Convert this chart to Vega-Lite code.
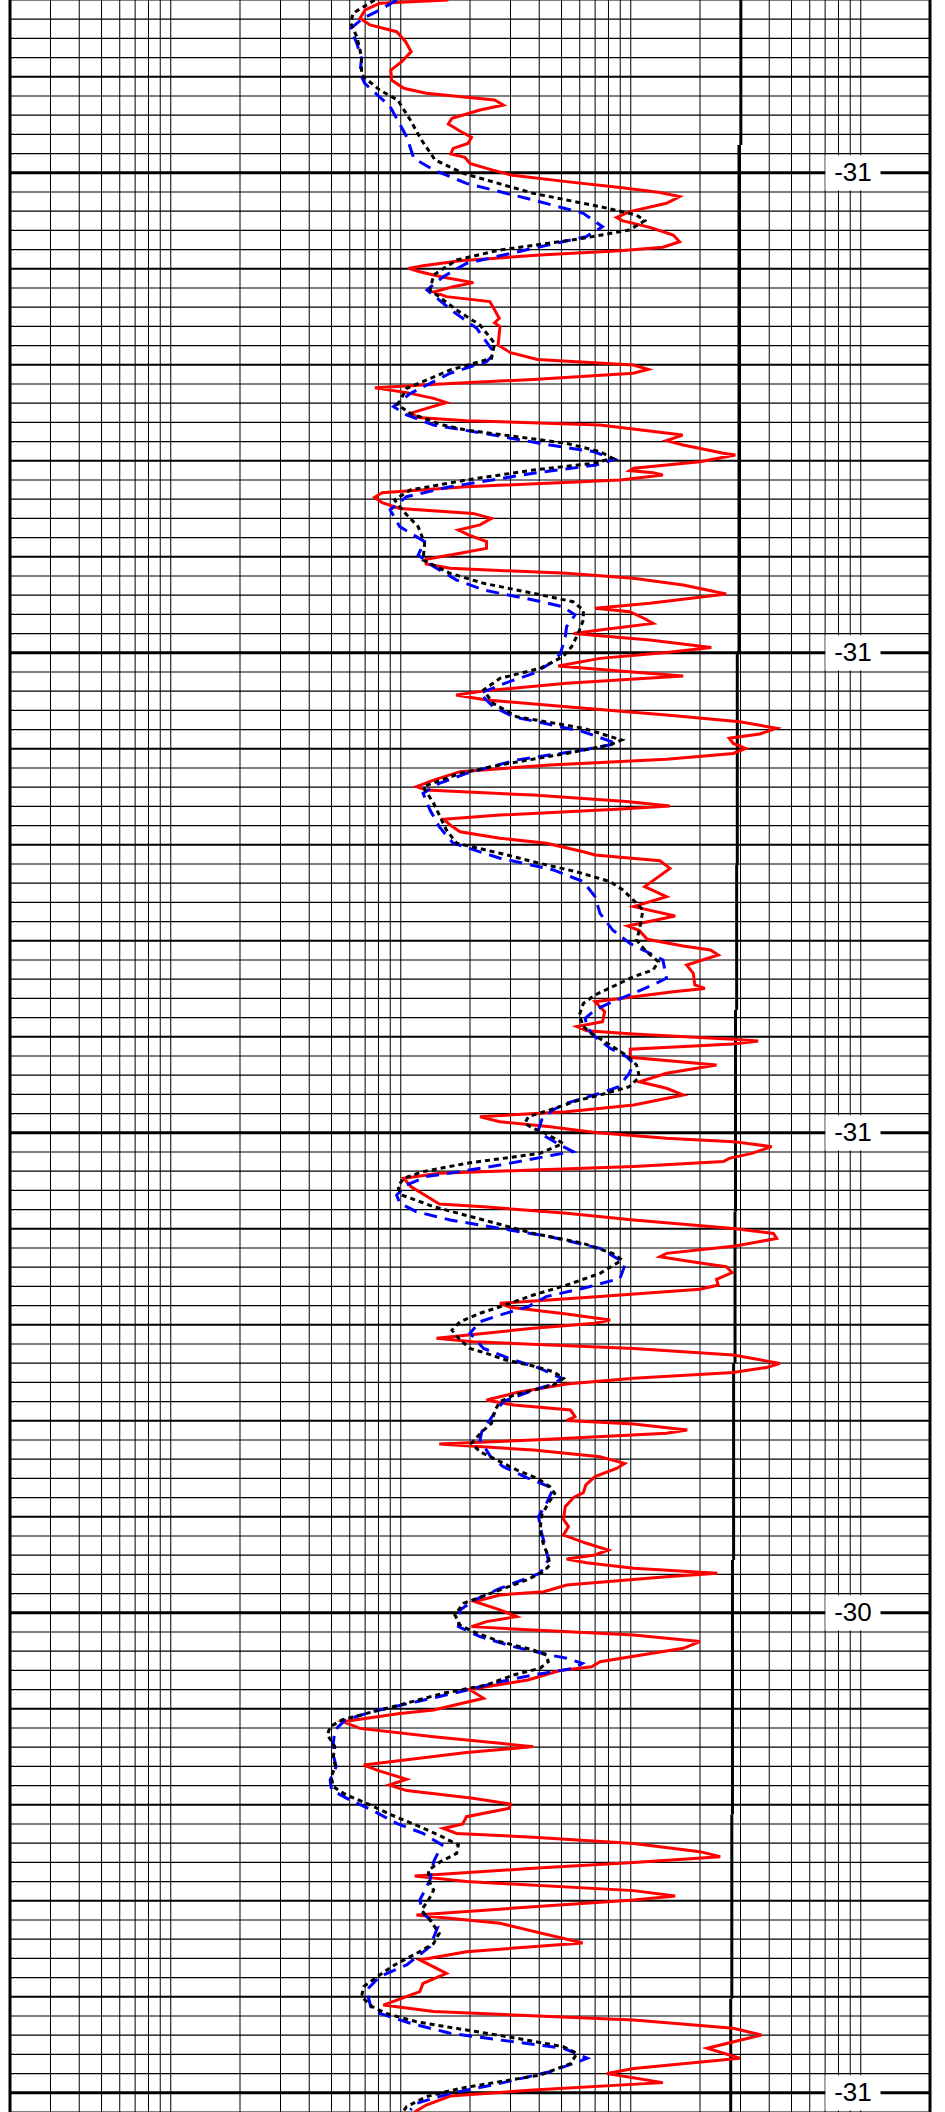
{
"$schema": "https://vega.github.io/schema/vega-lite/v6.json",
"width": 920, "height": 2112,
"autosize": {"type": "none"},
"padding": {"left": 10, "top": 0, "right": 15, "bottom": 0},
"background": "white",
"config": {"view": {"stroke": null}},
"datasets": {
"vthin": [{"v":0.3},{"v":0.4},{"v":0.5},{"v":0.6},{"v":0.7},{"v":0.8},{"v":0.9},{"v":1},{"v":2},{"v":3},{"v":4},{"v":5},{"v":6},{"v":7},{"v":8},{"v":9},{"v":10},{"v":20},{"v":30},{"v":40},{"v":50},{"v":60},{"v":70},{"v":80},{"v":90},{"v":100},{"v":200},{"v":300},{"v":400},{"v":500},{"v":600},{"v":700},{"v":800},{"v":900},{"v":1000}],
"vborder": [{"v":0.2},{"v":2000}],
"hthin": [{"d":0},{"d":1},{"d":2},{"d":3},{"d":5},{"d":6},{"d":7},{"d":8},{"d":10},{"d":11},{"d":12},{"d":13},{"d":15},{"d":16},{"d":17},{"d":18},{"d":20},{"d":21},{"d":22},{"d":23},{"d":25},{"d":26},{"d":27},{"d":28},{"d":30},{"d":31},{"d":32},{"d":33},{"d":35},{"d":36},{"d":37},{"d":38},{"d":40},{"d":41},{"d":42},{"d":43},{"d":45},{"d":46},{"d":47},{"d":48},{"d":50},{"d":51},{"d":52},{"d":53},{"d":55},{"d":56},{"d":57},{"d":58},{"d":60},{"d":61},{"d":62},{"d":63},{"d":65},{"d":66},{"d":67},{"d":68},{"d":70},{"d":71},{"d":72},{"d":73},{"d":75},{"d":76},{"d":77},{"d":78},{"d":80},{"d":81},{"d":82},{"d":83},{"d":85},{"d":86},{"d":87},{"d":88},{"d":90},{"d":91},{"d":92},{"d":93},{"d":95},{"d":96},{"d":97},{"d":98},{"d":100},{"d":101},{"d":102},{"d":103},{"d":105},{"d":106},{"d":107},{"d":108},{"d":110}],
"hmid": [{"d":4},{"d":14},{"d":19},{"d":24},{"d":29},{"d":39},{"d":44},{"d":49},{"d":54},{"d":64},{"d":69},{"d":74},{"d":79},{"d":89},{"d":94},{"d":99},{"d":104}],
"hmajor": [{"d":9,"t":"-31"},{"d":34,"t":"-31"},{"d":59,"t":"-31"},{"d":84,"t":"-30"},{"d":109,"t":"-31"}],
"cutoff": [{"v":301,"d0":0,"d1":7.55},{"v":295.5,"d0":7.55,"d1":34},{"v":290.5,"d0":34,"d1":45.05},{"v":288.7,"d0":45.05,"d1":52.6},{"v":285.4,"d0":52.6,"d1":63.1},{"v":284,"d0":63.1,"d1":71},{"v":280,"d0":71,"d1":81.25},{"v":276.8,"d0":81.25,"d1":94.5},{"v":275,"d0":94.5,"d1":104.1},{"v":272,"d0":104.1,"d1":110}],
"red": [
{"d":0,"v":16.1},{"d":0.17,"v":8.1},{"d":0.52,"v":7.0},{"d":0.95,"v":6.65},{"d":1.3,"v":7.35},{"d":1.65,"v":9.6},{"d":2.17,"v":10.5},{"d":2.69,"v":11.1},{"d":3.21,"v":10.1},{"d":3.65,"v":9.05},{"d":4.17,"v":9.13},{"d":4.6,"v":10.3},{"d":4.86,"v":12.9},{"d":5.07,"v":19.3},{"d":5.21,"v":25.6},{"d":5.47,"v":27.9},{"d":5.73,"v":22.1},{"d":6.16,"v":16.7},{"d":6.46,"v":16.1},{"d":6.86,"v":18.3},{"d":7.15,"v":20.3},{"d":7.47,"v":19.6},{"d":7.73,"v":16.9},{"d":8.02,"v":16.5},{"d":8.19,"v":19.0},{"d":8.51,"v":20.0},{"d":8.77,"v":23.6},{"d":9.11,"v":30.0},{"d":9.46,"v":52.6},{"d":9.77,"v":89.8},{"d":10.03,"v":134},{"d":10.24,"v":163},{"d":10.59,"v":143},{"d":11.02,"v":99},{"d":11.32,"v":86.8},{"d":11.49,"v":91.7},{"d":11.84,"v":121},{"d":12.24,"v":153},{"d":12.59,"v":163},{"d":12.88,"v":138},{"d":13.06,"v":90},{"d":13.28,"v":40.3},{"d":13.58,"v":18.1},{"d":13.84,"v":12.5},{"d":13.98,"v":10.8},{"d":14.15,"v":12.1},{"d":14.44,"v":15.3},{"d":14.72,"v":20.7},{"d":14.93,"v":16.9},{"d":15.21,"v":13.9},{"d":15.45,"v":15.8},{"d":15.71,"v":24.4},{"d":16.15,"v":25.6},{"d":16.58,"v":26.8},{"d":16.81,"v":25.6},{"d":17.01,"v":27},{"d":17.97,"v":26.5},{"d":18.37,"v":30.0},{"d":18.72,"v":39.3},{"d":19.01,"v":102.6},{"d":19.24,"v":119},{"d":19.44,"v":102.6},{"d":19.76,"v":37.7},{"d":20.0,"v":14.9},{"d":20.19,"v":7.72},{"d":20.45,"v":10.6},{"d":20.75,"v":13.9},{"d":20.97,"v":15.8},{"d":21.22,"v":13.4},{"d":21.53,"v":11.0},{"d":21.74,"v":11.9},{"d":21.91,"v":19.3},{"d":22.14,"v":73.5},
{"d":22.66,"v":168},{"d":22.95,"v":143},{"d":23.18,"v":169},{"d":23.61,"v":253},{"d":23.7,"v":285},{"d":24.05,"v":200},{"d":24.39,"v":103},{"d":24.51,"v":99},{"d":24.62,"v":125},{"d":24.74,"v":138},{"d":25.0,"v":90},{"d":25.35,"v":19.3},{"d":25.66,"v":8.3},{"d":25.9,"v":7.7},{"d":26.18,"v":8.3},{"d":26.48,"v":9.9},{"d":26.74,"v":20.6},{"d":27.0,"v":24.8},{"d":27.34,"v":22.1},{"d":27.6,"v":17.8},{"d":27.86,"v":19.7},{"d":28.21,"v":23.6},{"d":28.56,"v":23.6},{"d":28.82,"v":18.1},{"d":29.13,"v":12.9},{"d":29.38,"v":12.9},{"d":29.6,"v":16.4},{"d":29.86,"v":52.6},{"d":30.12,"v":102.6},{"d":30.47,"v":169},{"d":30.94,"v":260},{"d":31.42,"v":121},{"d":31.68,"v":70},{"d":31.86,"v":99},{"d":32.2,"v":114},{"d":32.47,"v":125},{"d":32.81,"v":73.5},{"d":32.99,"v":56.5},{"d":33.33,"v":121},{"d":33.72,"v":224},{"d":33.99,"v":143},{"d":34.29,"v":73.5},{"d":34.69,"v":48.4},{"d":34.93,"v":86.8},{"d":35.21,"v":169},{"d":35.59,"v":52.6},{"d":35.97,"v":23.6},{"d":36.2,"v":17.4},{"d":36.46,"v":23.6},{"d":36.81,"v":52.6},{"d":37.24,"v":143},{"d":37.59,"v":298},{"d":37.93,"v":430},{"d":38.23,"v":364},{"d":38.45,"v":268},{"d":38.72,"v":279},{"d":38.98,"v":316},{"d":39.24,"v":279},{"d":39.55,"v":143},{"d":39.84,"v":44.5},{"d":40.19,"v":18.1},{"d":40.63,"v":13.9},{"d":40.97,"v":11.7},{"d":41.15,"v":12.9},{"d":41.41,"v":37.7},{"d":41.75,"v":95.8},{"d":41.98,"v":148},{"d":42.15,"v":86.8},{"d":42.45,"v":27.0},{"d":42.67,"v":15.4},{"d":42.97,"v":16.4},{"d":43.32,"v":18.1},{"d":43.66,"v":27},
{"d":43.92,"v":43.0},{"d":44.36,"v":62.2},{"d":44.53,"v":69.9},{"d":44.83,"v":134},{"d":45.23,"v":148},{"d":45.75,"v":129},{"d":46.18,"v":115},{"d":46.7,"v":143},{"d":47.22,"v":103},{"d":47.71,"v":156},{"d":48.23,"v":97},{"d":48.47,"v":109},{"d":48.92,"v":118},{"d":49.27,"v":169},{"d":49.48,"v":222},{"d":49.74,"v":240},{"d":50.26,"v":175},{"d":50.69,"v":187},{"d":51.3,"v":190},{"d":51.48,"v":210},{"d":51.65,"v":153},{"d":52.17,"v":69.9},{"d":52.69,"v":77},{"d":53.21,"v":75.4},{"d":53.47,"v":58.3},{"d":53.68,"v":64.3},{"d":53.85,"v":102.6},{"d":54.13,"v":279},{"d":54.22,"v":358},{"d":54.38,"v":279},{"d":54.65,"v":99.5},{"d":55.07,"v":99.5},{"d":55.47,"v":236},{"d":55.9,"v":143},{"d":56.34,"v":109},{"d":56.68,"v":143},{"d":57.03,"v":169},{"d":57.55,"v":103},{"d":57.9,"v":52.6},{"d":58.16,"v":22.1},{"d":58.42,"v":27},{"d":58.68,"v":44.5},{"d":58.99,"v":69.9},{"d":59.29,"v":143},{"d":59.46,"v":279},{"d":59.72,"v":410},{"d":60.07,"v":336},{"d":60.33,"v":268},{"d":60.5,"v":253},{"d":60.76,"v":103},{"d":60.94,"v":37.7},{"d":61.11,"v":14.7},{"d":61.37,"v":10.3},{"d":61.81,"v":11.1},{"d":62.41,"v":13.4},{"d":62.71,"v":14.7},{"d":62.85,"v":22.9},{"d":63.19,"v":52.6},{"d":63.54,"v":103},{"d":63.98,"v":279},{"d":64.24,"v":417},{"d":64.5,"v":431},{"d":64.9,"v":285},{"d":65.28,"v":143},{"d":65.45,"v":134},{"d":65.66,"v":173},{"d":65.88,"v":230},
{"d":65.97,"v":260},{"d":66.28,"v":276},{"d":66.63,"v":236},{"d":66.93,"v":240},{"d":67.15,"v":200},{"d":67.53,"v":73.5},{"d":67.88,"v":27},{"d":68.09,"v":29.9},{"d":68.44,"v":52.6},{"d":68.75,"v":81.4},{"d":68.92,"v":69.9},{"d":69.18,"v":37.7},{"d":69.7,"v":14.3},{"d":69.88,"v":20.6},{"d":70.23,"v":103},{"d":70.57,"v":279},{"d":71.01,"v":445},{"d":71.22,"v":390},{"d":71.48,"v":279},{"d":71.79,"v":103},{"d":72.08,"v":52.6},{"d":72.53,"v":31.9},{"d":72.92,"v":23.6},{"d":73.18,"v":31},{"d":73.44,"v":54.7},{"d":73.78,"v":57.2},{"d":73.99,"v":52.6},{"d":74.17,"v":103},{"d":74.48,"v":176},{"d":74.65,"v":143},{"d":75.0,"v":37.7},{"d":75.21,"v":14.7},{"d":75.52,"v":37.7},{"d":75.87,"v":73.5},{"d":76.22,"v":94},{"d":76.48,"v":86.8},{"d":76.91,"v":69.9},{"d":77.34,"v":63.8},{"d":77.74,"v":62.2},{"d":77.99,"v":56.5},{"d":78.47,"v":51.9},{"d":79.13,"v":51},{"d":79.51,"v":53.6},{"d":79.95,"v":51},{"d":80.38,"v":64.2},{"d":80.73,"v":79.8},{"d":80.99,"v":69.9},{"d":81.2,"v":52.6},{"d":81.39,"v":64.2},{"d":81.68,"v":103},{"d":81.94,"v":238},{"d":82.12,"v":143},{"d":82.55,"v":52.6},{"d":82.9,"v":41.9},{"d":83.07,"v":27},{"d":83.42,"v":21},{"d":83.85,"v":27},{"d":84.2,"v":31.9},{"d":84.46,"v":23.6},{"d":84.72,"v":20.3},{"d":84.9,"v":37.7},{"d":85.16,"v":103},{"d":85.5,"v":200},{"d":85.85,"v":169},{"d":86.55,"v":73.5},{"d":86.81,"v":67.6},{"d":87.01,"v":49.2},
{"d":87.5,"v":35.7},{"d":87.99,"v":19.9},{"d":88.45,"v":22.9},{"d":89.06,"v":13.9},{"d":89.24,"v":9.9},{"d":89.67,"v":5.6},{"d":90.02,"v":6.65},{"d":90.45,"v":13.9},{"d":90.8,"v":27},{"d":90.97,"v":37.7},{"d":91.28,"v":19.3},{"d":91.93,"v":6.9},{"d":92.22,"v":8.0},{"d":92.67,"v":10.6},{"d":92.97,"v":8.9},{"d":93.26,"v":10.6},{"d":93.66,"v":20.6},{"d":93.96,"v":29.9},{"d":94.18,"v":29.7},{"d":94.62,"v":19.3},{"d":95.0,"v":18.6},{"d":95.23,"v":15.3},{"d":95.49,"v":17.5},{"d":95.69,"v":37.7},{"d":96.01,"v":103},{"d":96.44,"v":200},{"d":96.7,"v":245},{"d":97.01,"v":103},{"d":97.31,"v":37.7},{"d":97.71,"v":11.5},{"d":98.0,"v":19.3},{"d":98.47,"v":103},{"d":98.75,"v":156},{"d":98.96,"v":103},{"d":99.31,"v":37.7},{"d":99.74,"v":11.7},{"d":100.17,"v":27},{"d":101.2,"v":61.8},{"d":101.65,"v":19.3},{"d":102.08,"v":12.1},{"d":102.78,"v":15.8},{"d":103.3,"v":12.5},{"d":103.73,"v":12.1},{"d":104.43,"v":8.4},{"d":104.77,"v":13.9},{"d":105.21,"v":103},{"d":105.64,"v":279},{"d":105.99,"v":370},{"d":106.68,"v":215},{"d":107.2,"v":298},{"d":107.73,"v":103},{"d":107.99,"v":78.8},{"d":108.47,"v":138},{"d":108.85,"v":37.7},{"d":109.17,"v":16.4},{"d":109.64,"v":12.9},{"d":110.0,"v":11.5}
],
"black": [
{"d":0,"v":7.7},{"d":0.69,"v":6.2},{"d":1.22,"v":6.06},{"d":1.91,"v":6.44},{"d":2.95,"v":6.75},{"d":3.91,"v":6.75},{"d":4.69,"v":8.1},{"d":5.21,"v":9.7},{"d":6.25,"v":11.0},{"d":7.29,"v":12.3},{"d":8.33,"v":14.1},{"d":9.03,"v":18.7},{"d":10.07,"v":37.7},{"d":10.76,"v":73.5},{"d":11.2,"v":106},{"d":11.49,"v":115},{"d":11.98,"v":98.6},{"d":12.41,"v":62.2},{"d":13.02,"v":27},{"d":13.54,"v":17.5},{"d":14.32,"v":13.9},{"d":15.1,"v":13.4},{"d":16.15,"v":17.5},{"d":16.93,"v":22.1},{"d":17.88,"v":25.6},{"d":18.66,"v":24.8},{"d":19.27,"v":16.4},{"d":20.23,"v":10.6},{"d":21.09,"v":9.7},{"d":21.53,"v":11.0},{"d":22.14,"v":15.3},
{"d":22.4,"v":19.3},{"d":23.09,"v":52.6},{"d":23.52,"v":73.5},{"d":23.87,"v":83.4},{"d":24.13,"v":68.6},{"d":24.48,"v":37.7},{"d":25.0,"v":19.3},{"d":25.52,"v":11.0},{"d":26.04,"v":9.4},{"d":26.65,"v":10.3},{"d":27.43,"v":11.9},{"d":28.3,"v":12.7},{"d":29.17,"v":12.5},{"d":29.86,"v":16.4},{"d":30.38,"v":22.9},{"d":30.9,"v":37.7},{"d":31.34,"v":56.1},{"d":31.77,"v":62.2},{"d":32.29,"v":62.2},{"d":32.99,"v":59.1},{"d":33.68,"v":55.3},{"d":34.2,"v":50.8},{"d":34.81,"v":40.3},{"d":35.33,"v":27},{"d":35.94,"v":22.9},{"d":36.63,"v":25.2},{"d":37.33,"v":31.9},{"d":37.93,"v":62.2},{"d":38.54,"v":91.2},{"d":38.8,"v":81},{"d":39.24,"v":52.6},{"d":39.84,"v":27},{"d":40.28,"v":18.1},{"d":40.97,"v":12.5},{"d":41.84,"v":13.9},{"d":43.23,"v":15.8},
{"d":43.92,"v":17.5},{"d":44.44,"v":27},{"d":44.97,"v":40.3},{"d":45.4,"v":57.9},{"d":45.92,"v":81.4},{"d":46.35,"v":92.5},{"d":46.88,"v":102.6},{"d":47.4,"v":113},{"d":48.44,"v":109},{"d":48.96,"v":106},{"d":49.57,"v":117},{"d":50.09,"v":132},{"d":50.52,"v":125},{"d":50.87,"v":102.6},{"d":51.39,"v":83.4},{"d":51.82,"v":69.9},{"d":52.26,"v":62.2},{"d":52.86,"v":59.8},{"d":53.47,"v":62.2},{"d":53.82,"v":67.2},{"d":54.43,"v":81.4},{"d":55.03,"v":97.6},{"d":55.47,"v":106},{"d":56.08,"v":109},{"d":56.6,"v":98.6},{"d":57.03,"v":73.5},{"d":57.29,"v":59.8},{"d":57.81,"v":44.5},{"d":58.16,"v":35.9},{"d":58.51,"v":34.6},{"d":58.77,"v":37.7},{"d":59.03,"v":42.6},{"d":59.55,"v":50.8},{"d":60.07,"v":40.3},{"d":60.59,"v":19.3},{"d":61.02,"v":12.5},{"d":61.37,"v":10.3},{"d":61.81,"v":9.7},{"d":62.24,"v":10.1},{"d":62.85,"v":13.9},{"d":63.54,"v":22.9},{"d":64.24,"v":37.7},{"d":64.76,"v":62.2},{"d":65.28,"v":83.4},
{"d":65.63,"v":91.7},{"d":66.32,"v":73.5},{"d":66.93,"v":52.6},{"d":67.45,"v":37.7},{"d":68.06,"v":27},{"d":68.4,"v":22.1},{"d":68.84,"v":18.1},{"d":69.27,"v":16.7},{"d":69.79,"v":18.1},{"d":70.23,"v":20},{"d":70.49,"v":23.6},{"d":70.83,"v":28.6},{"d":71.15,"v":37.7},{"d":71.44,"v":46.1},{"d":71.79,"v":51},{"d":72.14,"v":46.1},{"d":72.4,"v":37.7},{"d":72.66,"v":31},{"d":73.0,"v":27},{"d":73.44,"v":25.7},{"d":74.13,"v":24.8},{"d":74.57,"v":22.5},{"d":75.17,"v":20.3},{"d":75.61,"v":22.1},{"d":76.13,"v":27},{"d":76.56,"v":31.9},{"d":76.98,"v":38.9},{"d":77.43,"v":44.5},{"d":77.78,"v":46.7},{"d":78.3,"v":43.8},{"d":78.91,"v":41},{"d":79.69,"v":40.3},{"d":80.38,"v":41.6},{"d":81.08,"v":43.8},{"d":81.51,"v":44.5},{"d":81.86,"v":41.6},{"d":82.29,"v":35.3},{"d":82.81,"v":27},{"d":83.25,"v":21.4},{"d":83.51,"v":18.7},{"d":84.11,"v":17.2},{"d":84.64,"v":18.1},{"d":84.98,"v":20.6},{"d":85.5,"v":27},{"d":85.94,"v":37.7},{"d":86.2,"v":43},{"d":86.55,"v":43.8},{"d":86.89,"v":40.3},{"d":87.24,"v":30.9},
{"d":87.5,"v":27},{"d":87.76,"v":23.6},{"d":88.19,"v":15.3},{"d":88.8,"v":9.9},{"d":89.24,"v":7.1},{"d":89.58,"v":5.55},{"d":89.93,"v":4.93},{"d":90.36,"v":4.8},{"d":90.97,"v":5.17},{"d":91.49,"v":5.09},{"d":92.01,"v":5.2},{"d":92.53,"v":4.98},{"d":93.06,"v":5.09},{"d":93.49,"v":5.8},{"d":93.92,"v":7.1},{"d":94.53,"v":9.1},{"d":95.14,"v":12.1},{"d":95.66,"v":15.1},{"d":96.09,"v":17.8},{"d":96.53,"v":17.5},{"d":96.96,"v":14.9},{"d":97.4,"v":13.2},{"d":97.92,"v":13.2},{"d":98.44,"v":13.9},{"d":98.96,"v":13.2},{"d":99.48,"v":12.3},{"d":100.0,"v":13.4},{"d":100.69,"v":14.7},{"d":101.22,"v":13.9},{"d":101.74,"v":11.7},{"d":102.34,"v":9.4},{"d":102.95,"v":7.9},{"d":103.47,"v":6.9},{"d":103.99,"v":6.75},{"d":104.51,"v":7.5},{"d":104.86,"v":8.6},{"d":105.3,"v":11.7},{"d":105.73,"v":19.3},{"d":106.16,"v":31.9},{"d":106.6,"v":51},{"d":106.94,"v":58.3},{"d":107.47,"v":55},{"d":108.07,"v":40.6},{"d":108.42,"v":27},{"d":108.77,"v":18.1},{"d":109.2,"v":12.9},{"d":109.72,"v":10.6},{"d":110,"v":10.2}
],
"blue": [
{"d":0,"v":9.6},{"d":0.52,"v":8.1},{"d":0.95,"v":6.86},{"d":1.48,"v":6.06},{"d":2.26,"v":6.44},{"d":3.04,"v":6.75},{"d":3.82,"v":6.65},{"d":4.34,"v":6.97},{"d":5.56,"v":9.0},{"d":7.12,"v":10.6},{"d":8.25,"v":11.4},{"d":8.85,"v":13.9},{"d":9.55,"v":19.3},{"d":10.42,"v":37.7},{"d":11.11,"v":62.2},{"d":11.81,"v":75.3},{"d":12.33,"v":63.8},{"d":12.93,"v":37.7},{"d":13.72,"v":19.3},{"d":14.41,"v":15.3},{"d":15.1,"v":13.0},{"d":16.23,"v":16.9},{"d":17.1,"v":21.4},{"d":18.4,"v":25.6},{"d":18.84,"v":23.6},{"d":19.44,"v":16.4},{"d":20.49,"v":11.0},{"d":21.18,"v":9.3},{"d":21.61,"v":10.6},{"d":22.14,"v":13.9},
{"d":22.57,"v":22.9},{"d":23.18,"v":44.5},{"d":23.52,"v":68.6},{"d":23.92,"v":84.9},{"d":24.22,"v":70.7},{"d":24.65,"v":37.7},{"d":25.35,"v":16.4},{"d":25.87,"v":10.6},{"d":26.56,"v":9.0},{"d":27.43,"v":9.9},{"d":28.21,"v":12.7},{"d":28.91,"v":11.9},{"d":29.51,"v":13.9},{"d":30.21,"v":17.5},{"d":30.73,"v":22.9},{"d":31.25,"v":37.7},{"d":31.6,"v":50.8},{"d":32.03,"v":57.2},{"d":32.64,"v":52.6},{"d":33.16,"v":51.9},{"d":34.03,"v":49.5},{"d":34.46,"v":46.1},{"d":35.07,"v":37.7},{"d":35.59,"v":28.3},{"d":36.11,"v":22.1},{"d":36.81,"v":25.2},{"d":37.33,"v":30.9},{"d":38.11,"v":62.2},{"d":38.72,"v":86.8},{"d":39.06,"v":62.2},{"d":39.58,"v":31.9},{"d":40.28,"v":19.3},{"d":40.8,"v":14.7},{"d":41.32,"v":12.5},{"d":42.19,"v":13.4},{"d":43.06,"v":14.7},{"d":43.92,"v":16.9},
{"d":44.7,"v":27},{"d":45.31,"v":46.1},{"d":45.92,"v":62.2},{"d":46.7,"v":69.9},{"d":47.57,"v":73.5},{"d":48.44,"v":83.4},{"d":49.13,"v":99},{"d":49.65,"v":121},{"d":50.0,"v":138},{"d":50.95,"v":143},{"d":51.22,"v":129},{"d":51.74,"v":102.6},{"d":52.17,"v":83.4},{"d":52.6,"v":69.9},{"d":53.04,"v":63.4},{"d":53.56,"v":64.7},{"d":53.99,"v":69.9},{"d":54.6,"v":81.4},{"d":55.03,"v":95.8},{"d":55.38,"v":102.6},{"d":55.9,"v":98.6},{"d":56.6,"v":88.6},{"d":56.94,"v":73.5},{"d":57.46,"v":52.6},{"d":57.81,"v":45.9},{"d":58.33,"v":41},{"d":58.85,"v":39.7},{"d":59.2,"v":42.6},{"d":59.72,"v":50.8},{"d":59.98,"v":56.1},{"d":60.16,"v":46.1},{"d":60.68,"v":27},{"d":61.02,"v":18.1},{"d":61.28,"v":12.9},{"d":61.72,"v":10.6},{"d":62.24,"v":9.6},{"d":62.67,"v":9.9},{"d":63.11,"v":11.7},{"d":63.54,"v":16.4},{"d":63.98,"v":27},{"d":64.41,"v":44.5},{"d":65.02,"v":73.5},{"d":65.63,"v":89.8},
{"d":65.89,"v":94.3},{"d":66.58,"v":89.8},{"d":67.1,"v":62.2},{"d":67.53,"v":42.9},{"d":68.06,"v":35.7},{"d":68.49,"v":27},{"d":68.84,"v":22.1},{"d":69.44,"v":20},{"d":70.23,"v":22.9},{"d":70.83,"v":30.9},{"d":71.27,"v":40.3},{"d":71.79,"v":50.1},{"d":72.08,"v":46.1},{"d":72.4,"v":37.7},{"d":73.0,"v":27.9},{"d":73.7,"v":25.2},{"d":74.57,"v":22.5},{"d":75.0,"v":22.1},{"d":75.87,"v":24.6},{"d":76.39,"v":27.9},{"d":76.98,"v":35.7},{"d":77.52,"v":46.1},{"d":78.3,"v":43},{"d":78.99,"v":39.7},{"d":79.86,"v":41},{"d":80.73,"v":42.9},{"d":81.25,"v":43.8},{"d":81.94,"v":40.3},{"d":82.73,"v":27},{"d":83.33,"v":21},{"d":83.85,"v":18.1},{"d":84.72,"v":17.8},{"d":85.24,"v":22.1},{"d":85.76,"v":30.9},{"d":86.2,"v":44.5},{"d":86.37,"v":52.6},{"d":86.63,"v":61.6},{"d":86.89,"v":56.5},{"d":87.24,"v":37.7},
{"d":87.59,"v":27},{"d":88.11,"v":18.1},{"d":88.63,"v":11.7},{"d":89.15,"v":7.5},{"d":89.58,"v":5.75},{"d":90.1,"v":5.17},{"d":90.8,"v":5.09},{"d":91.41,"v":5.09},{"d":92.01,"v":5.24},{"d":92.71,"v":4.93},{"d":93.23,"v":5.0},{"d":93.75,"v":6.01},{"d":94.27,"v":7.5},{"d":94.97,"v":9.6},{"d":95.49,"v":12.5},{"d":96.09,"v":15.1},{"d":96.96,"v":13.9},{"d":97.92,"v":13.4},{"d":98.96,"v":12.1},{"d":99.65,"v":12.5},{"d":100.35,"v":14.5},{"d":101.39,"v":13.4},{"d":102.34,"v":10.6},{"d":102.95,"v":8.1},{"d":103.65,"v":7.1},{"d":104.51,"v":7.4},{"d":104.86,"v":8.1},{"d":105.38,"v":11.0},{"d":105.9,"v":16.4},{"d":106.25,"v":27},{"d":106.68,"v":51},{"d":107.2,"v":64.7},{"d":107.47,"v":56.5},{"d":107.9,"v":44.5},{"d":108.51,"v":27},{"d":109.03,"v":16.4},{"d":109.55,"v":11.7},{"d":109.9,"v":11}
]
},
"layer": [
{"data": {"name": "vthin"}, "mark": {"type": "rule", "color": "#000", "strokeWidth": 1},
 "encoding": {"x": {"field": "v", "type": "quantitative", "scale": {"type": "log", "domain": [0.2, 2000], "nice": false}, "axis": null}}},
{"data": {"name": "hthin"}, "mark": {"type": "rule", "color": "#000", "strokeWidth": 1.2},
 "encoding": {"y": {"field": "d", "type": "quantitative", "scale": {"domain": [0, 110], "reverse": true, "nice": false, "zero": false}, "axis": null}}},
{"data": {"name": "hmid"}, "mark": {"type": "rule", "color": "#000", "strokeWidth": 2},
 "encoding": {"y": {"field": "d", "type": "quantitative"}}},
{"data": {"name": "hmajor"}, "mark": {"type": "rule", "color": "#000", "strokeWidth": 3},
 "encoding": {"y": {"field": "d", "type": "quantitative"}}},
{"data": {"name": "vborder"}, "mark": {"type": "rule", "color": "#000", "strokeWidth": 3},
 "encoding": {"x": {"field": "v", "type": "quantitative"}}},
{"data": {"name": "cutoff"}, "mark": {"type": "rule", "color": "#000", "strokeWidth": 3},
 "encoding": {"x": {"field": "v", "type": "quantitative"}, "y": {"field": "d0", "type": "quantitative"}, "y2": {"field": "d1"}}},
{"data": {"name": "red"}, "mark": {"type": "line", "color": "#ff0000", "strokeWidth": 3, "clip": true},
 "encoding": {"x": {"field": "v", "type": "quantitative"}, "y": {"field": "d", "type": "quantitative"}, "order": {"field": "d", "type": "quantitative"}}},
{"data": {"name": "blue"}, "mark": {"type": "line", "color": "#0000ff", "strokeWidth": 3, "strokeDash": [13, 8], "clip": true},
 "encoding": {"x": {"field": "v", "type": "quantitative"}, "y": {"field": "d", "type": "quantitative"}, "order": {"field": "d", "type": "quantitative"}}},
{"data": {"name": "black"}, "mark": {"type": "line", "color": "#000000", "strokeWidth": 3, "strokeDash": [5, 4], "clip": true},
 "encoding": {"x": {"field": "v", "type": "quantitative"}, "y": {"field": "d", "type": "quantitative"}, "order": {"field": "d", "type": "quantitative"}}},
{"data": {"name": "hmajor"}, "mark": {"type": "point", "shape": "M-1,-0.64L1,-0.64L1,0.64L-1,0.64Z", "size": 3025, "filled": true, "fill": "#ffffff", "opacity": 1, "strokeWidth": 0},
 "encoding": {"x": {"datum": 925}, "y": {"field": "d", "type": "quantitative"}}},
{"data": {"name": "hmajor"}, "mark": {"type": "text", "font": "Liberation Sans", "fontSize": 26, "color": "#000", "align": "center", "baseline": "middle"},
 "encoding": {"x": {"datum": 925}, "y": {"field": "d", "type": "quantitative"}, "text": {"field": "t"}}}
]
}
